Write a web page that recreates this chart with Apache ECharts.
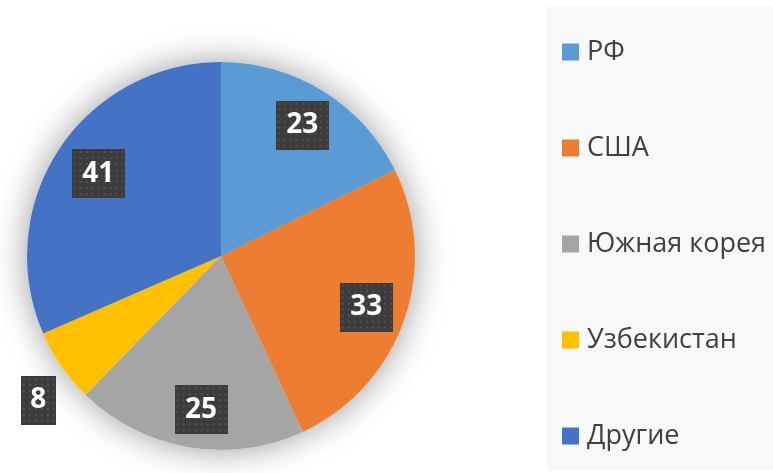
<!DOCTYPE html>
<html>
<head>
<meta charset="utf-8">
<script src="https://cdn.jsdelivr.net/npm/echarts@6/dist/echarts.min.js"></script>
<style>
  html, body { margin: 0; padding: 0; background: #fff; }
  #chart { width: 773px; height: 473px; }
</style>
</head>
<body>
<div id="chart"></div>
<script>
// data
const countries = ["РФ", "США", "Южная корея", "Узбекистан", "Другие"];
const values = [23, 33, 25, 8, 41];
const colors = ["#5B9BD5", "#ED7D31", "#A5A5A5", "#FFC000", "#4472C4"];

// dotted dark texture for the value boxes
function makeTexture(w, h) {
  const c = document.createElement("canvas");
  c.width = w;
  c.height = h;
  const ctx = c.getContext("2d");
  ctx.fillStyle = "#3c3c3c";
  ctx.fillRect(0, 0, w, h);
  ctx.fillStyle = "#515151";
  for (let x = 2; x < w; x += 6) {
    for (let y = 2; y < h; y += 6) {
      ctx.fillRect(x, y, 2, 2);
    }
  }
  return c;
}

const bigBox = makeTexture(53, 49);
const smallBox = makeTexture(35, 49);

const pieData = countries.map((name, i) => ({
  name: name,
  value: values[i],
  itemStyle: { color: colors[i] }
}));

const labelData = countries.map((name, i) => ({
  name: name,
  value: values[i],
  label: {
    backgroundColor: { image: values[i] < 10 ? smallBox : bigBox },
    width: values[i] < 10 ? 17 : 35
  }
}));

const myChart = echarts.init(document.getElementById("chart"));
myChart.setOption({
  animation: false,
  legend: {
    orient: "vertical",
    left: 547,
    top: 6,
    padding: [31, 40, 19, 15],
    itemGap: 66,
    itemWidth: 17,
    itemHeight: 17,
    icon: "rect",
    backgroundColor: "#f8f8f8",
    data: countries,
    textStyle: {
      fontSize: 27,
      color: "#404040",
      fontFamily: "Open Sans",
      lineHeight: 30,
      padding: [0, 0, 0, 3]
    }
  },
  series: [
    {
      type: "pie",
      center: [221, 256],
      radius: [0, 194],
      startAngle: 90,
      clockwise: true,
      z: 2,
      label: { show: false },
      labelLine: { show: false },
      emphasis: { disabled: true },
      itemStyle: { borderWidth: 0 },
      data: pieData
    },
    {
      // white copy underneath, only for the soft outer shadow
      type: "pie",
      center: [221, 256],
      radius: [0, 194],
      startAngle: 90,
      silent: true,
      z: 1,
      label: { show: false },
      labelLine: { show: false },
      itemStyle: {
        color: "#fff",
        shadowBlur: 34,
        shadowColor: "rgba(0,0,0,0.4)"
      },
      data: values.map((v, i) => ({ name: countries[i], value: v }))
    },
    {
      // transparent ring that only carries the value boxes
      type: "pie",
      center: [221, 256],
      radius: [108, 194],
      startAngle: 90,
      silent: true,
      z: 3,
      itemStyle: { color: "rgba(0,0,0,0)" },
      labelLine: { show: false },
      label: {
        show: true,
        position: "inside",
        formatter: "{c}",
        color: "#fff",
        fontSize: 28,
        fontWeight: "bold",
        fontFamily: "Open Sans",
        align: "center",
        overflow: "none",
        height: 33,
        lineHeight: 33,
        padding: [8, 9],
        shadowBlur: 6,
        shadowColor: "rgba(0,0,0,0.35)",
        shadowOffsetX: 3,
        shadowOffsetY: 3
      },
      labelLayout: function (p) {
        if (p.dataIndex === 3) {
          return { dx: -56, dy: 57 };
        }
        if (p.dataIndex === 4) {
          return { dx: 6, dy: 2 };
        }
        if (p.dataIndex === 2) {
          return { dx: 6, dy: 2 };
        }
      },
      data: labelData
    }
  ]
});
</script>
</body>
</html>
